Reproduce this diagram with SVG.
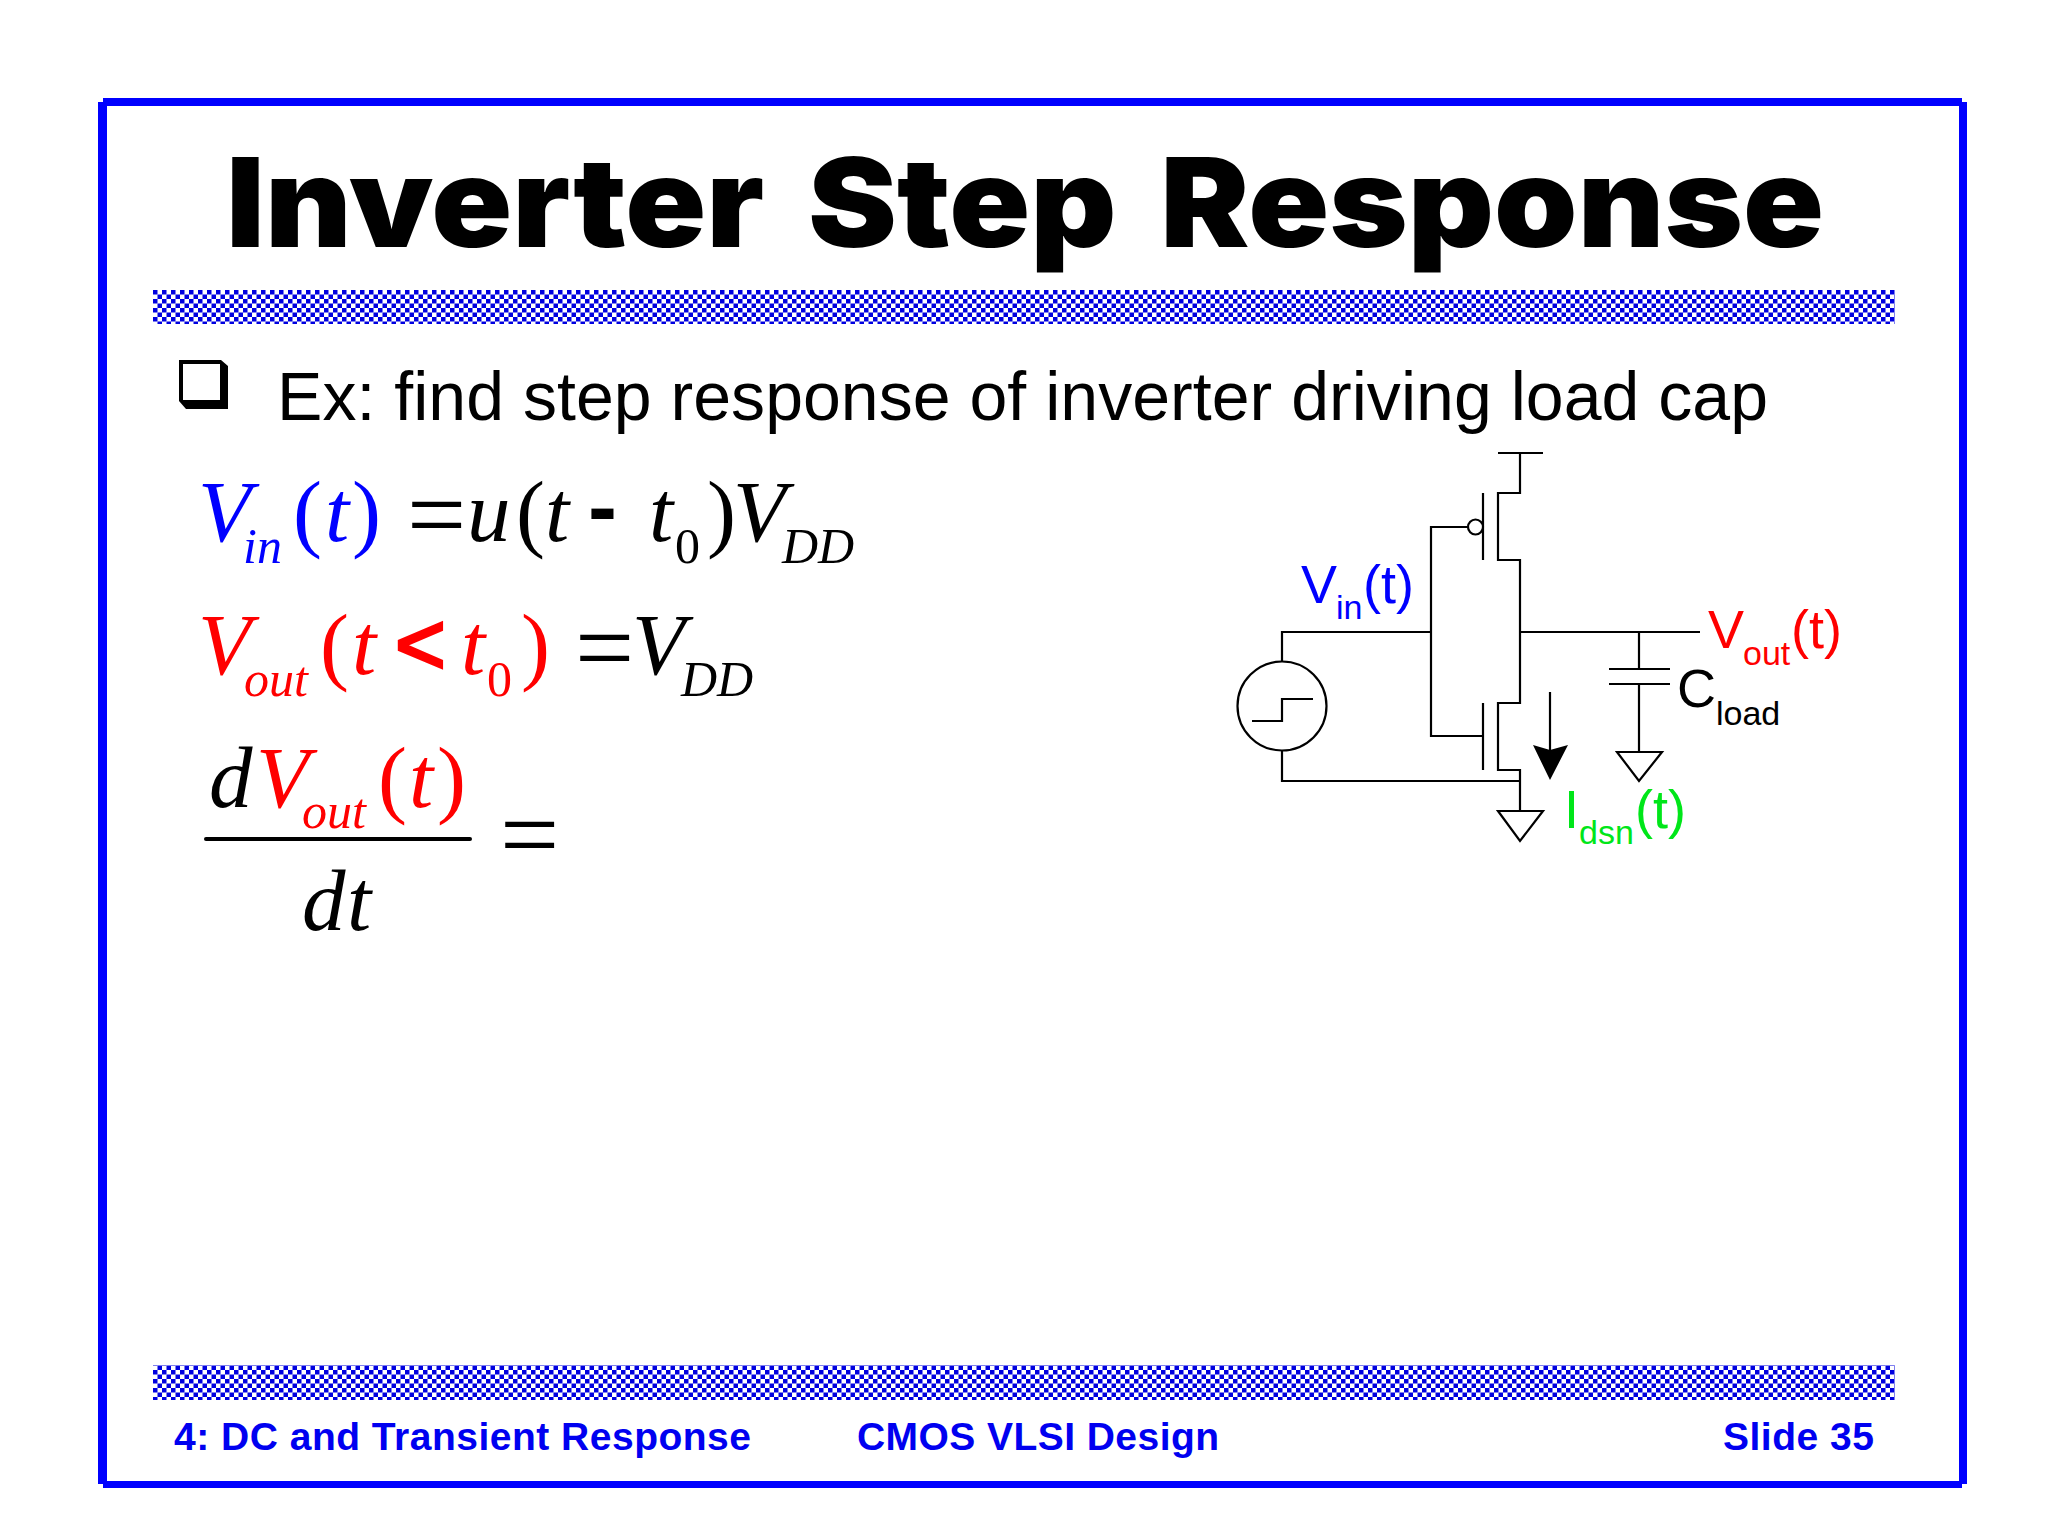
<svg xmlns="http://www.w3.org/2000/svg" width="2048" height="1536" viewBox="0 0 2048 1536">
<style>
.w{fill:none;stroke:#000;stroke-width:2.2}
.g{fill:#fff;stroke:#000;stroke-width:2.2}
.s{font-family:"Liberation Sans",Arial,sans-serif}
.t{font-family:"Liberation Serif","Times New Roman",serif;font-size:87px}
.i{font-style:italic}
.sub{font-size:50px}
.eq{font-size:105px}
.lab{font-family:"Liberation Sans",Arial,sans-serif;font-size:54px}
.ls{font-size:34px}
.foot{font-family:"Liberation Sans",Arial,sans-serif;font-weight:bold;font-size:39px;fill:#0000f0}
.b{fill:#0000ff}.r{fill:#ff0000}.k{fill:#000}.gn{fill:#00e619}
</style>
<defs>
<pattern id="chk" width="9" height="9" patternUnits="userSpaceOnUse" x="153" y="290">
<rect width="9" height="9" fill="#fff"/>
<rect width="4.5" height="4.5" fill="#0000e0"/>
<rect x="4.5" y="4.5" width="4.5" height="4.5" fill="#0000e0"/>
</pattern>
</defs>
<rect width="2048" height="1536" fill="#fff"/>
<g id="frame">
<path d="M103 98H1962V102H1967V1484H1962V1488H103V1484H98V102H103Z M107 106V1481H1959V106Z" fill="#0000ff" fill-rule="evenodd"/>
</g>
<g id="title">
<text x="226" y="247" font-family="Inter,'Liberation Sans',sans-serif" font-size="124" font-weight="900" fill="#000" word-spacing="16" textLength="1598" lengthAdjust="spacingAndGlyphs">Inverter Step Response</text>
</g>
<rect id="band-top" x="153" y="290" width="1742" height="34" fill="url(#chk)"/>
<rect id="band-bottom" x="153" y="1365" width="1742" height="35" fill="url(#chk)"/>
<g id="bullet">
<path fill-rule="evenodd" d="M179 360H221L228 366V409H186L179 401Z M183 364V400H220V364Z" fill="#000"/>
</g>
<text id="bullet-text" class="s" x="277" y="420" font-size="68" fill="#000" textLength="1491">Ex: find step response of inverter driving load cap</text>
<g id="eq1">
<text class="t"><tspan class="i b" x="198" y="541">V</tspan><tspan class="i b sub" x="243" y="563">in</tspan><tspan class="b" x="293" y="541">(</tspan><tspan class="i b" x="325" y="541">t</tspan><tspan class="b" x="352" y="541">)</tspan><tspan class="k eq" x="407" y="550">=</tspan><tspan class="i k" x="467" y="541">u</tspan><tspan class="k" x="516" y="541">(</tspan><tspan class="i k" x="545" y="541">t</tspan><tspan class="s k" font-weight="bold" x="588" y="536">-</tspan><tspan class="i k" x="649" y="541">t</tspan><tspan class="k sub" x="675" y="563">0</tspan><tspan class="k" x="707" y="541">)</tspan><tspan class="i k" x="733" y="541">V</tspan><tspan class="i k sub" x="782" y="563">DD</tspan></text>
</g>
<g id="eq2">
<text class="t"><tspan class="i r" x="198" y="674">V</tspan><tspan class="i r sub" x="244" y="696">out</tspan><tspan class="r" x="320" y="674">(</tspan><tspan class="i r" x="352" y="674">t</tspan><tspan class="s r" stroke="#f00" stroke-width="3" x="395" y="674">&lt;</tspan><tspan class="i r" x="461" y="674">t</tspan><tspan class="r sub" x="487" y="696">0</tspan><tspan class="r" x="521" y="674">)</tspan><tspan class="k eq" x="575" y="683">=</tspan><tspan class="i k" x="632" y="674">V</tspan><tspan class="i k sub" x="681" y="696">DD</tspan></text>
</g>
<g id="eq3">
<text class="t"><tspan class="i k" x="209" y="807">d</tspan><tspan class="i r" x="256" y="807">V</tspan><tspan class="i r sub" x="302" y="828">out</tspan><tspan class="r" x="378" y="807">(</tspan><tspan class="i r" x="409" y="807">t</tspan><tspan class="r" x="437" y="807">)</tspan><tspan class="k eq" x="500" y="870">=</tspan><tspan class="i k" x="302" y="930">d</tspan><tspan class="i k" x="347" y="930">t</tspan></text>
<rect x="204" y="837" width="268" height="4" rx="2" fill="#000"/>
</g>
<g id="connectors">
<path class="w" d="M1520 453V493H1498V560H1520V703H1498V770H1520V811"/>
<path class="w" d="M1468 527H1431V736H1483"/>
<path class="w" d="M1282 661V632H1431"/>
<path class="w" d="M1520 632H1700"/>
<path class="w" d="M1639 632V669M1639 684V752"/>
<path class="w" d="M1282 751V781H1520"/>
<path class="w" d="M1550 692V752"/>
</g>
<g id="vdd"><path class="w" d="M1498 453H1543"/></g>
<g id="pmos"><path class="w" d="M1483 493V560"/><circle class="g" cx="1475.5" cy="527" r="7.5"/></g>
<g id="nmos"><path class="w" d="M1483 703V770"/></g>
<g id="source"><circle class="g" cx="1282" cy="706" r="44.5"/><path class="w" d="M1252 721H1282V699H1313"/></g>
<g id="cap"><path class="w" d="M1609 669H1670M1609 684H1670"/></g>
<g id="gnd1"><path class="g" d="M1498 811H1543L1520 841Z"/></g>
<g id="gnd2"><path class="g" d="M1617 752H1662L1639 781Z"/></g>
<g id="arrow"><path d="M1533 745L1550 750L1568 745L1550 780Z" fill="#000"/></g>
<g id="labels">
<text class="lab b"><tspan x="1301" y="603">V</tspan><tspan class="ls" x="1336" y="619">in</tspan><tspan x="1363" y="603">(t)</tspan></text>
<text class="lab r"><tspan x="1708" y="648">V</tspan><tspan class="ls" x="1743" y="665">out</tspan><tspan x="1791" y="648">(t)</tspan></text>
<text class="lab k"><tspan x="1677" y="707">C</tspan><tspan class="ls" x="1716" y="725">load</tspan></text>
<text class="lab gn"><tspan x="1564" y="828">I</tspan><tspan class="ls" x="1579" y="844">dsn</tspan><tspan x="1635" y="828">(t)</tspan></text>
</g>
<g id="footer">
<text class="foot" x="174" y="1450" textLength="577">4: DC and Transient Response</text>
<text class="foot" x="857" y="1450" textLength="362">CMOS VLSI Design</text>
<text class="foot" x="1723" y="1450" textLength="151">Slide 35</text>
</g>
</svg>
